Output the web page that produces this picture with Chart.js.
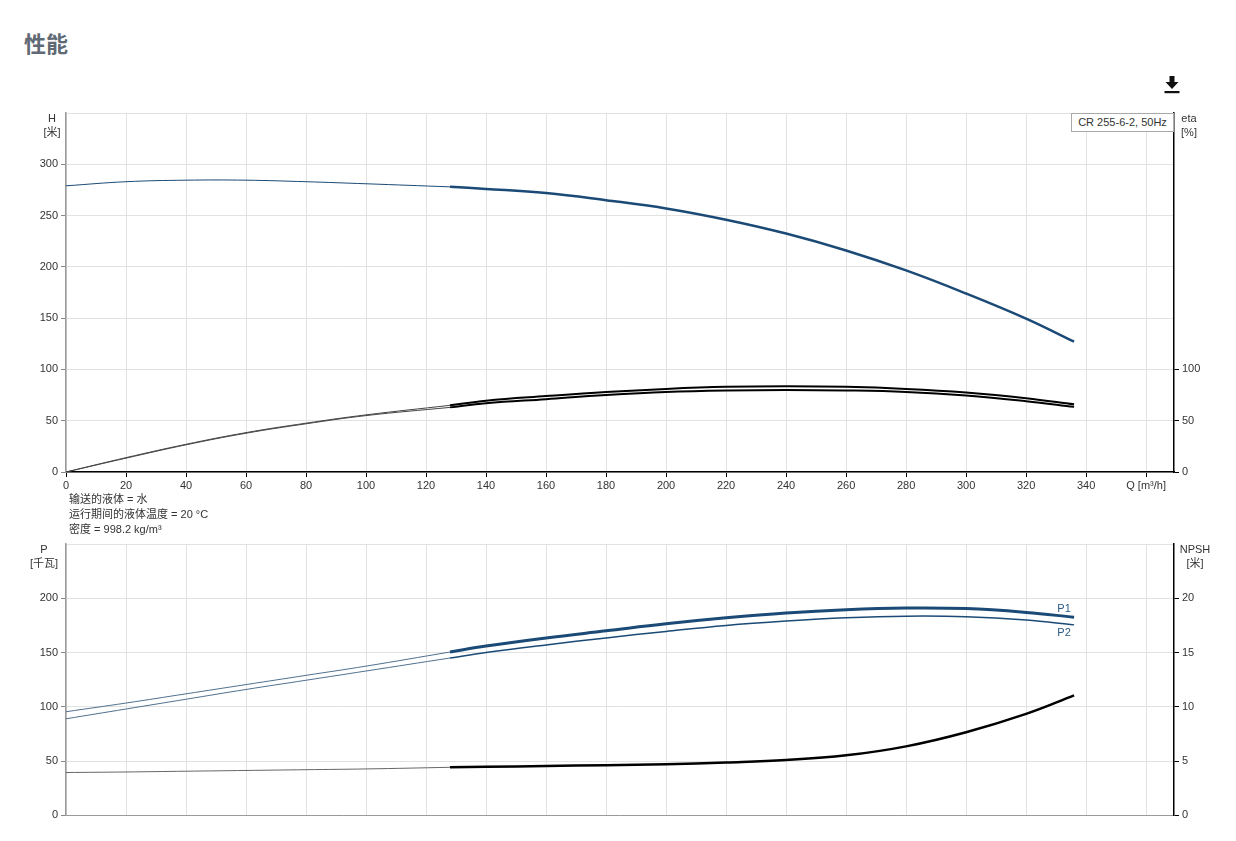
<!DOCTYPE html>
<html>
<head>
<meta charset="utf-8">
<script src="https://cdn.jsdelivr.net/npm/chart.js@4.4.0/dist/chart.umd.min.js"></script>
<style>
  body { margin: 0; background: #fff; font-family: "Liberation Sans", Arial, sans-serif; }
  .abs { position: absolute; white-space: nowrap; }
  .lbl { font-size: 11px; color: #333; text-align: center; line-height: 14px; }
  .cjk { font-family: "Liberation Sans", "Noto Sans CJK SC", sans-serif; }
  #title { left: 24px; top: 26px; font: bold 22px "Noto Sans CJK SC", sans-serif; color: #5f6a74; }
  .note { left: 69px; font-size: 11px; color: #333; line-height: 15px; }
  #model { left: 1071px; top: 113px; width: 101px; height: 17px; border: 1px solid #aaa; background: #fff;
           font-size: 11px; color: #333; line-height: 17px; text-align: center; z-index: 2; }
  canvas { position: absolute; left: 0; }
</style>
</head>
<body>
<div id="title" class="abs">性能</div>
<svg class="abs" style="left:1163px;top:75px" width="18" height="20" viewBox="0 0 18 20">
  <path d="M6.5 1 h5 v6 h4 l-6.5 7 l-6.5 -7 h4 z" fill="#111"/>
  <rect x="1.5" y="16" width="15" height="2.2" fill="#111"/>
</svg>

<canvas id="top" width="1236" height="397" style="top:100px"></canvas>
<canvas id="bottom" width="1236" height="295" style="top:530px"></canvas>

<div id="model" class="abs">CR 255-6-2, 50Hz</div>

<div class="abs lbl cjk" style="left:40px;top:111px;width:24px">H<br>[米]</div>
<div class="abs lbl" style="left:1176px;top:111px;width:26px">eta<br>[%]</div>
<div class="abs lbl cjk" style="left:26px;top:542px;width:36px">P<br>[千瓦]</div>
<div class="abs lbl cjk" style="left:1176px;top:542px;width:38px">NPSH<br>[米]</div>

<div class="abs note cjk" style="top:492px">输送的液体 = 水</div>
<div class="abs note cjk" style="top:507px">运行期间的液体温度 = 20 °C</div>
<div class="abs note cjk" style="top:522px">密度 = 998.2 kg/m³</div>

<script>
// flow points (m3/h), curve is thin up to index SPLIT, thick after
const flow  = [0, 20, 40, 60, 80, 100, 128, 140, 160, 180, 200, 220, 240, 260, 280, 300, 320, 336];
const SPLIT = 6;
const head  = [279, 283, 284.5, 284.5, 283, 281, 278, 276, 272, 265, 257, 246, 232.5, 216, 196.5, 174, 149.5, 127];
const etaA  = [0, 14, 27, 38.4, 47.6, 55.7, 65, 69.5, 74, 78, 81, 83, 83.5, 83, 81, 77.5, 72, 66];
const etaB  = [0, 13.5, 26.5, 37.8, 47, 55, 63, 67, 71, 75, 78, 79.5, 80, 79.5, 78, 74.5, 69, 63.5];
const p1    = [95.5, 103.5, 112, 120.5, 129, 137.5, 150.5, 156, 163.5, 170, 176.5, 182, 186.5, 189.5, 191, 190.5, 187, 182.5];
const p2    = [89, 98, 107, 116, 124.5, 133, 145, 150, 157, 163.5, 169.5, 175, 179, 182, 183.5, 183, 180, 175.5];
const npsh  = [3.95, 4.0, 4.07, 4.14, 4.21, 4.28, 4.43, 4.48, 4.55, 4.63, 4.72, 4.88, 5.1, 5.53, 6.36, 7.66, 9.35, 11.05];

const qTicks = [0, 20, 40, 60, 80, 100, 120, 140, 160, 180, 200, 220, 240, 260, 280, 300, 320, 340];
const qMax = 369.3;

const BLUE = '#1b4a76';
const GRID = '#e2e2e2';

function pts(ys, part) {
  let out = flow.map((q, i) => ({ x: q, y: ys[i] }));
  return part === 'thin' ? out.slice(0, SPLIT + 1) : out.slice(SPLIT);
}
function line(ys, part, color, w, axis, label) {
  return {
    label: label, data: pts(ys, part), yAxisID: axis,
    borderColor: color, borderWidth: w, pointRadius: 0,
    tension: 0.4, fill: false
  };
}

Chart.defaults.font.family = '"Liberation Sans", Arial, sans-serif';
Chart.defaults.font.size = 11;
Chart.defaults.color = '#333';

function xScale(showLabels, h) {
  return {
    type: 'linear', min: 0, max: qMax,
    afterBuildTicks: s => { s.ticks = qTicks.concat([360]).map(v => ({ value: v })); },
    ticks: {
      display: showLabels, includeBounds: false, maxRotation: 0, padding: 2,
      callback: v => v === 360 ? 'Q [m³/h]' : v
    },
    grid: { color: GRID, tickLength: showLabels ? 5 : 0, tickColor: '#000' },
    border: { color: showLabels ? '#000' : '#999', width: showLabels ? 1.5 : 1 },
    afterFit: s => { s.height = h; }
  };
}

function yLeft(max, step, lastLabel) {
  return {
    position: 'left', min: 0, max: max,
    ticks: { stepSize: step, padding: 3, callback: v => v <= lastLabel ? v : '' },
    grid: {
      color: GRID, tickLength: 5,
      tickColor: c => c.tick && c.tick.value > lastLabel ? 'rgba(0,0,0,0)' : '#888'
    },
    border: { color: '#999', width: 1.5 },
    afterFit: s => { s.width = 66; }
  };
}
function yRight(max, step, lastLabel) {
  return {
    position: 'right', min: 0, max: max,
    afterBuildTicks: s => { s.ticks = s.ticks.filter(t => t.value <= lastLabel); },
    ticks: { stepSize: step, padding: 3 },
    grid: { drawOnChartArea: false, tickLength: 5, tickColor: '#000' },
    border: { color: '#000', width: 1.5 },
    afterFit: s => { s.width = 62; }
  };
}

new Chart(document.getElementById('top'), {
  type: 'line',
  data: {
    datasets: [
      line(head, 'thin', BLUE, 1, 'y', 'H'),
      line(head, 'thick', BLUE, 2.5, 'y', 'H'),
      line(etaA, 'thin', '#444', 1, 'y1', 'eta'),
      line(etaA, 'thick', '#000', 2, 'y1', 'eta'),
      line(etaB, 'thin', '#444', 1, 'y1', 'eta'),
      line(etaB, 'thick', '#000', 2, 'y1', 'eta')
    ]
  },
  options: {
    responsive: false, animation: false,
    layout: { padding: { top: 13, bottom: 0, left: 0, right: 0 } },
    plugins: { legend: { display: false }, tooltip: { enabled: false } },
    scales: {
      x: xScale(true, 25),
      y: yLeft(350, 50, 300),
      y1: yRight(350, 50, 100)
    }
  }
});

const curveTags = {
  id: 'curveTags',
  afterDatasetsDraw(chart) {
    const ctx = chart.ctx;
    ctx.save();
    ctx.font = '11px "Liberation Sans", Arial, sans-serif';
    ctx.fillStyle = '#2a5a86';
    ctx.textAlign = 'center';
    ctx.textBaseline = 'middle';
    chart.data.datasets.forEach((ds, i) => {
      if (!ds.tag) return;
      const pts = chart.getDatasetMeta(i).data;
      const last = pts[pts.length - 1];
      ctx.fillText(ds.label, last.x - 10, last.y + ds.tag);
    });
    ctx.restore();
  }
};

const p1Thick = line(p1, 'thick', BLUE, 3, 'y', 'P1'); p1Thick.tag = -8;
const p2Thick = line(p2, 'thick', BLUE, 1.5, 'y', 'P2'); p2Thick.tag = 8;

new Chart(document.getElementById('bottom'), {
  type: 'line',
  data: {
    datasets: [
      line(p1, 'thin', '#50708e', 1, 'y', 'P1'),
      p1Thick,
      line(p2, 'thin', '#50708e', 1, 'y', 'P2'),
      p2Thick,
      line(npsh, 'thin', '#666', 1, 'y1', 'NPSH'),
      line(npsh, 'thick', '#000', 2.5, 'y1', 'NPSH')
    ]
  },
  options: {
    responsive: false, animation: false,
    layout: { padding: { top: 14, bottom: 0, left: 0, right: 0 } },
    plugins: { legend: { display: false }, tooltip: { enabled: false } },
    scales: {
      x: xScale(false, 6),
      y: yLeft(250, 50, 200),
      y1: yRight(25, 5, 20)
    }
  },
  plugins: [curveTags]
});
</script>
</body>
</html>
